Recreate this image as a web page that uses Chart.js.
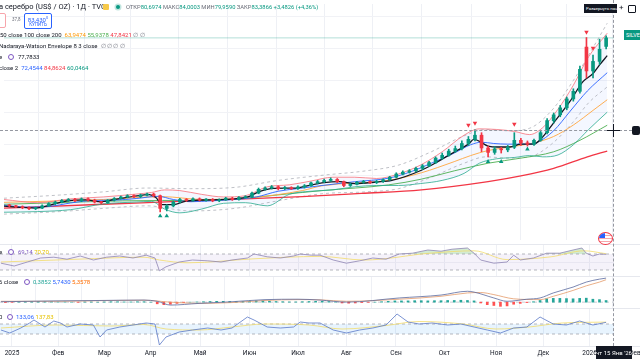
<!DOCTYPE html>
<html><head><meta charset="utf-8">
<script src="https://cdn.jsdelivr.net/npm/chart.js@4.4.1/dist/chart.umd.min.js"></script>
<style>
html,body{margin:0;padding:0;background:#fff;width:640px;height:360px;overflow:hidden;font-family:Roboto,'Noto Sans',sans-serif;}
canvas{position:absolute;left:0;}
.t{position:absolute;white-space:nowrap;font-size:6px;color:#131722;line-height:1;z-index:5;}
.g{color:#089981}
.ring{position:absolute;width:4px;height:4px;border:1.3px solid #7e57c2;border-radius:50%;z-index:5;background:#fff}
.sep{position:absolute;left:0;width:640px;height:1px;background:#e6e8ee;z-index:3}
</style></head><body>
<canvas id="cMain" width="640" height="244" style="top:0"></canvas>
<canvas id="cRsi" width="640" height="32" style="top:244px"></canvas>
<canvas id="cMacd" width="640" height="32" style="top:276px"></canvas>
<canvas id="cCci" width="640" height="52" style="top:308px"></canvas>

<div class="sep" style="top:244px"></div>
<div class="sep" style="top:276px"></div>
<div class="sep" style="top:308px"></div>
<div class="sep" style="top:346px"></div>

<!-- header -->
<div class="t" style="left:-1px;top:3px;font-size:7.5px;">а серебро (US$ / OZ) · 1Д · TVC</div>
<div style="position:absolute;left:103px;top:4px;width:6px;height:6px;background:#f7c948;border-radius:1px;z-index:5"></div>
<div style="position:absolute;left:116px;top:5px;width:4px;height:4px;border-radius:50%;background:#089981;box-shadow:0 0 0 1.5px rgba(8,153,129,0.25);z-index:5"></div>
<div class="t" style="left:126px;top:4.5px;font-size:5.8px;color:#6a6d78">ОТКР<span class="g">80,6974</span> МАКС<span class="g">84,0003</span> МИН<span class="g">79,9590</span> ЗАКР<span class="g">83,3866</span> <span class="g">+3,4826 (+4,36%)</span></div>
<div style="position:absolute;left:-22px;top:13px;width:26px;height:13px;border:1px solid #f7a5ab;border-radius:2px;background:#fff;z-index:5"></div>
<div class="t" style="left:12px;top:18px;font-size:4.5px;color:#6a6d78">37,8</div>
<div style="position:absolute;left:24px;top:13px;width:26px;height:14px;border:1px solid #2962ff;border-radius:2px;background:#fff;z-index:5;text-align:center;color:#2962ff;line-height:1">
<div style="font-size:6px;margin-top:1.5px">83,430<sup style="font-size:4px">0</sup></div><div style="font-size:4.5px;margin-top:0.5px">КУПИТЬ</div></div>
<div class="t" style="left:0;top:32px;">50 close 100 close 200 &nbsp;<span style="color:#ff9800">63,9474</span> <span style="color:#4caf50">55,9378</span> <span style="color:#f23645">47,8421</span> <span style="color:#787b86">∅ ∅</span></div>
<div class="t" style="left:-1px;top:43px;">Nadaraya-Watson Envelope 8 3 close &nbsp;<span style="color:#787b86">∅ ∅ ∅ ∅</span></div>
<div class="t" style="left:-1px;top:54px;">e</div>
<div class="ring" style="left:8px;top:54px"></div>
<div class="t" style="left:18px;top:54px;">77,7833</div>
<div class="t" style="left:-1px;top:65px;">close 2 &nbsp;<span style="color:#2962ff">72,4544</span> <span style="color:#f23645">84,8624</span> <span style="color:#089981">60,0464</span></div>

<!-- pane headers -->
<div class="t" style="left:-1px;top:249px;">e</div>
<div class="ring" style="left:8px;top:249px"></div>
<div class="t" style="left:18px;top:249px;"><span style="color:#7e57c2">69,14</span> <span style="color:#e6c200">70,70</span></div>
<div class="t" style="left:-1px;top:279px;">6 close</div>
<div class="ring" style="left:24px;top:279px"></div>
<div class="t" style="left:33px;top:279px;"><span style="color:#26a69a">0,3852</span> <span style="color:#2962ff">5,7430</span> <span style="color:#ff6d00">5,3578</span></div>
<div class="t" style="left:-1px;top:314px;">0</div>
<div class="ring" style="left:7px;top:314px"></div>
<div class="t" style="left:16px;top:314px;"><span style="color:#2962ff">133,06</span> <span style="color:#e6c200">137,83</span></div>

<!-- UI overlays -->
<div style="position:absolute;left:613px;top:0;height:346px;border-left:1px dashed #9598a1;z-index:4"></div>
<div style="position:absolute;left:0;top:130px;width:632px;border-top:1px dashed #9598a1;z-index:4"></div>
<div style="position:absolute;left:607px;top:130px;width:13px;height:1px;background:#131722;z-index:6"></div>
<div style="position:absolute;left:613px;top:124px;width:1px;height:13px;background:#131722;z-index:6"></div>
<div style="position:absolute;left:632px;top:126px;width:8px;height:9px;background:#131722;border-radius:2px;z-index:6"></div>
<div style="position:absolute;left:624px;top:30px;width:16px;height:10px;background:#089981;color:#fff;font-size:5.5px;line-height:10px;overflow:hidden;padding-left:2px;z-index:6">SILVER</div>
<div style="position:absolute;left:584px;top:4px;width:31px;height:9px;background:#131722;color:#fff;font-size:4.3px;line-height:9px;overflow:hidden;white-space:nowrap;padding-left:2px;z-index:6">Развернуть панель</div>
<div class="t" style="left:619px;top:4px;font-size:8px;color:#131722">+</div>
<div style="position:absolute;left:628px;top:5px;width:6px;height:6px;border:1px solid #131722;border-radius:1px;z-index:6"></div>
<div style="position:absolute;left:598px;top:232px;width:13px;height:11px;border-radius:50%;border:1.5px solid #f23645;background:repeating-linear-gradient(#fff 0 1.5px,#f7a5ab 1.5px 3px);overflow:hidden;z-index:6"><div style="width:6px;height:5px;background:#2962ff"></div></div>
<div style="position:absolute;left:596px;top:346px;width:36px;height:13px;background:#131722;color:#fff;font-size:6px;line-height:13px;text-align:center;white-space:nowrap;z-index:6">чт 15 Янв '26</div>

<script>
// ---- time axis (trading-day index) ----
const monthDay = [0,21,42,63,85.5,108,130,152,174.5,196.5,220,241.5,262.5,283];
const monthLabel = ['2025','Фев','Мар','Апр','Май','Июн','Июл','Авг','Сен','Окт','Ноя','Дек','2026','Фев'];
const candleDay = [-3,0,3,6,9,12,15,18,21,24,27,30,33,36,39,42,45,48,51,54,57,60,63,66,69,72,75,78,81,84,87,90,93,96,99,102,105,108,111,114,117,120,123,126,129,132,135,138,141,144,147,150,153,156,159,162,165,168,171,174,177,180,183,186,189,192,195,198,201,204,207,210,213,216,219,222,225,228,231,234,237,240,243,246,249,252,255,258,261,264,267,270];

// ---- candles ----
const opens = [30.9,30.6,30.3,30.0,29.7,29.9,30.6,31.3,31.8,32.3, 32.6,32.2,32.8,32.4,31.8,31.6,32.4,32.9,33.4,33.8, 33.5,34.0,34.3,33.8,29.8,30.6,31.8,32.6,32.3,32.8, 32.4,32.6,32.2,32.5,33.0,32.6,33.2,33.4,34.6,35.8, 36.2,36.6,36.0,36.3,36.0,36.5,36.9,37.8,38.2,38.6, 38.9,38.2,37.0,37.4,38.0,38.2,37.9,38.3,38.8,39.6, 40.6,41.2,41.6,42.4,43.2,44.2,45.6,46.5,47.8,48.6, 50.2,51.5,52.8,48.8,47.4,48.5,48.2,49.0,51.2,50.4, 50.0,51.2,53.6,57.4,59.2,61.4,64.2,66.6,80.5,73.0,76.0,80.7];
const highs = [31.1,30.8,30.6,30.3,30.2,30.9,31.6,32.1,32.6,32.9, 33.0,33.1,33.1,32.7,32.0,32.6,33.2,33.7,34.1,34.1, 34.3,34.6,34.6,34.0,31.0,32.1,33.0,32.9,33.1,33.1, 32.9,32.9,32.8,33.3,33.3,33.5,33.8,34.9,36.2,36.6, 37.0,36.9,36.7,36.6,36.9,37.3,38.1,38.6,39.0,39.4, 39.2,38.4,37.8,38.3,38.6,38.5,38.6,39.1,39.9,41.0, 41.6,42.0,42.8,43.6,44.6,46.0,47.2,48.4,49.4,51.0, 52.4,54.5,53.6,49.4,49.2,49.0,49.6,53.6,51.8,51.0, 51.6,54.0,58.0,59.8,62.2,64.8,67.4,74.5,83.5,78.0,83.0,84.0];
const lows = [30.3,30.0,29.7,29.4,29.4,29.7,30.4,31.0,31.5,32.0, 31.9,31.9,32.1,31.5,31.2,31.4,32.1,32.7,33.1,33.2, 33.2,33.7,33.4,28.7,29.0,30.3,31.5,32.0,32.0,32.1, 32.1,31.9,31.9,32.3,32.3,32.4,33.0,33.2,34.4,35.5, 35.9,35.6,35.7,35.7,35.8,36.2,36.7,37.5,37.9,38.3, 37.9,36.6,36.7,37.2,37.7,37.6,37.6,38.0,38.6,39.4, 40.3,40.9,41.3,42.0,42.9,43.9,45.2,46.2,47.4,48.2, 49.6,51.0,47.6,46.0,46.8,47.2,47.6,48.6,49.6,49.4, 49.6,50.9,53.2,56.6,58.6,60.8,63.5,66.0,70.8,70.8,75.0,79.96];
const closes = [30.6,30.3,30.0,29.7,29.9,30.6,31.3,31.8,32.3,32.6, 32.2,32.8,32.4,31.8,31.6,32.4,32.9,33.4,33.8,33.5, 34.0,34.3,33.8,29.8,30.6,31.8,32.6,32.3,32.8,32.4, 32.6,32.2,32.5,33.0,32.6,33.2,33.4,34.6,35.8,36.2, 36.6,36.0,36.3,36.0,36.5,36.9,37.8,38.2,38.6,38.9, 38.2,37.0,37.4,38.0,38.2,37.9,38.3,38.8,39.6,40.6, 41.2,41.6,42.4,43.2,44.2,45.6,46.5,47.8,48.6,50.2, 51.5,52.8,48.8,47.4,48.5,48.2,49.0,51.2,50.4,50.0, 51.2,53.6,57.4,59.2,61.4,64.2,66.6,73.5,73.0,76.0,79.8,83.39];
const lastClose = 83.39;

// ---- overlays on price: [day, value] ----
const emaLine = [[-5.5,30.5],[3,30.1],[9,29.9],[16,30.9],[24,32.2],[32,32.5],[39,31.9],[45,32.6],[54,33.6],[61,34.1],[64,33.2],[67,31.0],[72,31.0],[78,32.1],[88,32.5],[100,32.8],[106,33.4],[111,35.0],[118,36.1],[128,36.2],[136,37.3],[140,37.8],[148,38.2],[155,37.6],[165,38.1],[172,38.6],[185.5,41.8],[193,44.5],[200.5,47.5],[207,50.0],[209.5,51.5],[216,49.4],[220.5,49.1],[226,49.1],[231,50.0],[237,50.0],[240,51.5],[246,56.7],[253.6,63.6],[259.5,69.7],[264,72.2],[267,74.9],[270.5,77.8]];
const bbBasis = [[-5.5,30.8],[5,30.2],[15,30.4],[25,31.5],[35,32.3],[45,32.4],[55,32.9],[65,33.6],[72,32.6],[80,31.9],[90,32.2],[100,32.6],[110,33.4],[120,35.2],[130,36.1],[140,37.0],[155,38.2],[170.5,39.3],[181,41.4],[190,44.0],[200.5,47.2],[208,49.8],[213,50.6],[218.6,50.2],[225,50.0],[234,50.0],[238.6,50.6],[246,54.2],[253.6,60.4],[261.4,66.7],[270.5,72.45]];
const bbDay = [-5.5,10,25,40,55,62,68,75,85,95,105,115,125,135,145,155,165,175,185,195,205,212,220,228,235,241,248,255,262,270.5];
const bbUpper = [32.6,31.6,32.8,33.4,34.3,34.8,35.6,35.4,34.2,33.4,33.8,36.6,37.2,38.4,39.6,39.6,39.2,40.6,43.4,47.6,52.8,54.8,54.6,54.0,53.0,55.2,61.0,68.5,77.5,84.86];
const bbLower = [28.6,28.8,29.4,31.2,31.8,32.0,29.6,28.4,29.6,31.4,31.6,30.6,34.2,35.2,35.6,36.6,37.0,37.0,37.6,38.6,40.8,44.0,45.4,45.8,46.4,46.0,46.6,49.8,54.6,60.05];
const sma50 = [[-5.5,31.7],[40,32.6],[67,33.5],[85.5,32.6],[108,33.2],[131,35.4],[140,36.9],[170.5,38.6],[185.5,41.0],[200.5,44.5],[208,46.4],[216,48.0],[225,49.0],[237,50.4],[246,52.4],[255,56.0],[264,60.6],[270.5,63.95]];
const sma100 = [[-5.5,31.1],[67,32.3],[85.5,32.3],[131,34.8],[140,35.4],[170.5,37.2],[185.5,39.0],[200.5,41.6],[216,44.0],[231,45.6],[246,47.6],[258,51.2],[270.5,55.94]];
const sma200 = [[-5.5,29.9],[40,31.1],[85.5,32.3],[108,32.9],[131,33.5],[158,34.5],[185.5,35.6],[216,38.2],[231,40.0],[246,42.4],[261.4,46.0],[270.5,47.84]];
const nwUpper = [[-5.5,33.0],[20,34.0],[40,35.0],[60,36.2],[80,36.0],[100,36.4],[120,38.6],[140,40.2],[160,41.6],[175,43.4],[190,47.6],[205,52.6],[215,54.6],[225,54.2],[235,55.0],[245,60.5],[255,70.0],[262,78.0],[270.5,88.0]];
const nwLower = [[-5.5,28.0],[20,28.8],[40,29.8],[60,30.6],[80,29.0],[100,29.8],[120,32.2],[140,34.4],[160,35.0],[175,36.0],[190,39.6],[205,44.0],[215,46.0],[225,45.6],[235,46.0],[245,50.0],[255,57.0],[262,63.0],[270.5,68.0]];
const buyMarks = [[66,27.4],[69,27.4],[216,44.5],[222,44.5],[234,48.4]];
const sellMarks = [[207,56.0],[210,56.6],[228,56.3],[261,85.2],[264,80.2]];

// ---- RSI ----
const rsi = [[-5,47],[1,40],[7,50],[13,60],[19,62],[25,57],[31,65],[37,55],[43,62],[49,65],[55,60],[61,67],[65,60],[67,28],[70,38],[76,50],[82,55],[89,53],[95,50],[100,55],[107,60],[110,70],[116,63],[122,60],[128,65],[131,70],[136,67],[140,67],[146,55],[152,47],[158,53],[164,60],[170,57],[176,70],[182,72],[189,80],[195,77],[200,82],[207,85],[210,72],[213,55],[219,47],[225,50],[228,67],[231,55],[237,60],[243,72],[249,72],[255,80],[259,85],[261,72],[264,65],[267,70],[270,69.14]];
const rsiMa = [[-5,50],[30,57],[60,62],[67,55],[80,48],[110,58],[140,64],[160,55],[190,72],[210,78],[225,56],[245,63],[260,78],[270,70.70]];
const rsiLevels = [70,30];

// ---- MACD ----
const macdLine = [[-5,0.1],[20,0.3],[40,0.4],[60,0.5],[66,0.2],[72,-0.7],[85,-0.3],[100,0.1],[115,0.6],[130,0.7],[140,0.5],[152,0],[176,1.0],[195,1.7],[207,2.6],[210,2.4],[219,1.0],[225,0.2],[234,0.7],[240,1.0],[246,2.2],[255,3.6],[261,4.8],[267,5.5],[270,5.743]];
const macdSignal = [[-5,0.2],[20,0.2],[40,0.35],[60,0.45],[72,0.0],[85,-0.3],[100,-0.1],[115,0.4],[130,0.6],[140,0.55],[152,0.2],[176,0.7],[195,1.4],[207,2.2],[213,2.3],[219,1.8],[228,0.8],[240,0.6],[246,1.4],[255,2.8],[261,3.9],[267,4.8],[270,5.358]];
const macdHist = [-0.1,-0.05,0.05,0.1,0.1,0.15,0.1,0.1,0.05,0.05,0.0,-0.05,0.05,0.05,0.0,0.05,0.1,0.1,0.05,0.05,0.1,0.1, 0.0,-0.4,-0.6,-0.5,-0.3,-0.1,0.0,0.05, 0.1,0.15,0.2,0.2,0.15,0.1,0.15,0.25,0.3,0.3, 0.25,0.15,0.1,0.05,0.05,0.1,0.15,0.2,0.2,0.15, 0.0,-0.2,-0.25,-0.2,-0.1,-0.05,0.0,0.1,0.2,0.3, 0.3,0.3,0.35,0.35,0.3,0.35,0.35,0.4,0.4,0.45, 0.4,0.3,-0.2,-0.6,-0.8,-1.0,-0.9,-0.5,-0.3,-0.1, 0.1,0.4,0.8,0.9,0.9,0.85,0.8,0.9,0.95,0.7,0.6,0.385];

// ---- CCI ----
const cci = [[-5,-20],[-1,-80],[4,20],[8,120],[10,180],[15,40],[19,160],[22,120],[25,40],[31,100],[37,80],[40,-160],[43,-20],[49,40],[55,80],[61,120],[65,100],[67,-320],[70,-160],[76,-60],[82,-20],[89,20],[95,-20],[100,20],[107,240],[110,180],[116,40],[122,20],[128,40],[131,140],[135,120],[140,120],[146,-20],[152,-80],[158,-20],[164,20],[170,80],[175,300],[180,140],[185,100],[191,120],[198,80],[204,100],[210,40],[216,-20],[222,-80],[228,20],[234,40],[240,240],[246,100],[252,80],[258,160],[264,80],[270,133.06]];
const cciMa = [[-5,20],[20,80],[45,60],[60,90],[70,0],[85,-20],[100,40],[115,100],[135,80],[150,0],[170,70],[185,150],[205,100],[220,0],[235,40],[250,120],[270,137.83]];
const cciLevels = [100,-100];

// ---------------- build ----------------
const XMIN=-5.45, XMAX=273.6;
const UP='#089981', DN='#f23645';
const pts = a => a.map(p=>({x:p[0],y:p[1]}));
const hline = v => [{x:XMIN,y:v},{x:XMAX,y:v}];

function xScale(h){
  return {type:'linear',min:XMIN,max:XMAX,offset:false,display:true,
    afterBuildTicks:s=>{s.ticks=monthDay.filter(v=>v>=XMIN&&v<=XMAX).map(v=>({value:v}));},
    ticks:{display:false},grid:{color:'#eef0f5',drawTicks:false},border:{display:false},
    afterFit:s=>{s.height=h;}};
}
function yScale(min,max,ticks){
  return {type:'linear',position:'right',min,max,display:true,
    afterBuildTicks:s=>{s.ticks=ticks.map(v=>({value:v}));},
    ticks:{display:false},grid:{color:'#f1f2f6',drawTicks:false},border:{display:false},
    afterFit:s=>{s.width=0;}};
}
function make(id,datasets,ymin,ymax,yt,xh,plugins){
  return new Chart(document.getElementById(id),{
    type:'line',data:{datasets},
    options:{responsive:false,animation:false,devicePixelRatio:1,
      layout:{padding:{left:0,right:26,top:0,bottom:0}},
      plugins:{legend:{display:false},tooltip:{enabled:false},filler:{drawTime:'beforeDatasetsDraw'}},
      elements:{point:{radius:0}},
      scales:{x:xScale(xh),y:yScale(ymin,ymax,yt)}},
    plugins:plugins||[]});
}
function ln(data,color,w,extra){
  return Object.assign({type:'line',data,borderColor:color,borderWidth:w,pointRadius:0,fill:false,cubicInterpolationMode:'monotone'},extra||{});
}

const cColors = closes.map((c,k)=>c>=opens[k]?UP:DN);

make('cMain',[
  {type:'scatter',data:pts(sellMarks),pointStyle:'triangle',rotation:180,pointRadius:2.6,backgroundColor:DN,borderWidth:0},
  {type:'scatter',data:pts(buyMarks),pointStyle:'triangle',pointRadius:2.6,backgroundColor:UP,borderWidth:0},
  {type:'bar',data:candleDay.map((d,k)=>({x:d,y:[opens[k],closes[k]]})),backgroundColor:cColors,barThickness:3,grouped:false,minBarLength:1},
  {type:'bar',data:candleDay.map((d,k)=>({x:d,y:[lows[k],highs[k]]})),backgroundColor:cColors,barThickness:1,grouped:false},
  ln(pts(emaLine),'#131722',1.3),
  ln(pts(bbBasis),'#2962ff',0.9),
  ln(bbDay.map((d,k)=>({x:d,y:bbUpper[k]})),'#f7707a',0.8,{fill:'+1',backgroundColor:'rgba(41,98,255,0.05)'}),
  ln(bbDay.map((d,k)=>({x:d,y:bbLower[k]})),'#2bab8f',0.8),
  ln(pts(sma50),'#ffa640',0.9),
  ln(pts(sma100),'#4caf50',0.9),
  ln(pts(sma200),'#f23645',1.3),
  ln(pts(nwUpper),'#a3a6af',0.7,{borderDash:[3,3]}),
  ln(pts(nwLower),'#a3a6af',0.7,{borderDash:[3,3]}),
  ln(hline(lastClose),'rgba(8,153,129,0.3)',1,{cubicInterpolationMode:'default'})
],19.87,94.04,[30,40,50,60,70,80,90],0);

make('cRsi',[
  ln(pts(rsi),'#8e84b4',0.8,{cubicInterpolationMode:'default',tension:0,fill:{target:{value:70},above:'rgba(76,175,80,0.25)',below:'rgba(0,0,0,0)'}}),
  ln(pts(rsiMa),'#f2dc6b',0.8),
  ln(hline(rsiLevels[0]),'#9598a1',0.7,{borderDash:[3,3],fill:'+1',backgroundColor:'rgba(126,87,194,0.08)'}),
  ln(hline(rsiLevels[1]),'#9598a1',0.7,{borderDash:[3,3]})
],15,95,[50],0);

make('cMacd',[
  ln(pts(macdLine),'#5b6a9e',0.8),
  ln(pts(macdSignal),'#e49a6a',0.8),
  {type:'bar',data:candleDay.map((d,k)=>({x:d,y:macdHist[k]})),backgroundColor:macdHist.map(v=>v>=0?'#26a69a':'#ff5252'),barThickness:2,grouped:false},
  ln(hline(0),'#b2b5be',0.7,{borderDash:[3,3]})
],-1.4,6.25,[],0);

const xLabels = {id:'xLabels',afterDraw(chart){
  const c=chart.ctx, xs=chart.scales.x, b=chart.chartArea.bottom;
  c.save(); c.font='6.5px Roboto'; c.fillStyle='#131722'; c.textAlign='center'; c.textBaseline='middle';
  monthDay.forEach((v,k)=>{c.fillText(monthLabel[k],xs.getPixelForValue(v),b+7);});
  c.restore();
}};
make('cCci',[
  ln(pts(cci),'#5a78c8',0.8,{cubicInterpolationMode:'default',tension:0}),
  ln(pts(cciMa),'#f2dc6b',0.8),
  ln(hline(cciLevels[0]),'#9598a1',0.7,{borderDash:[3,3],fill:'+1',backgroundColor:'rgba(33,150,243,0.1)'}),
  ln(hline(cciLevels[1]),'#9598a1',0.7,{borderDash:[3,3]})
],-340,420,[],14,[xLabels]);
</script>
</body></html>
